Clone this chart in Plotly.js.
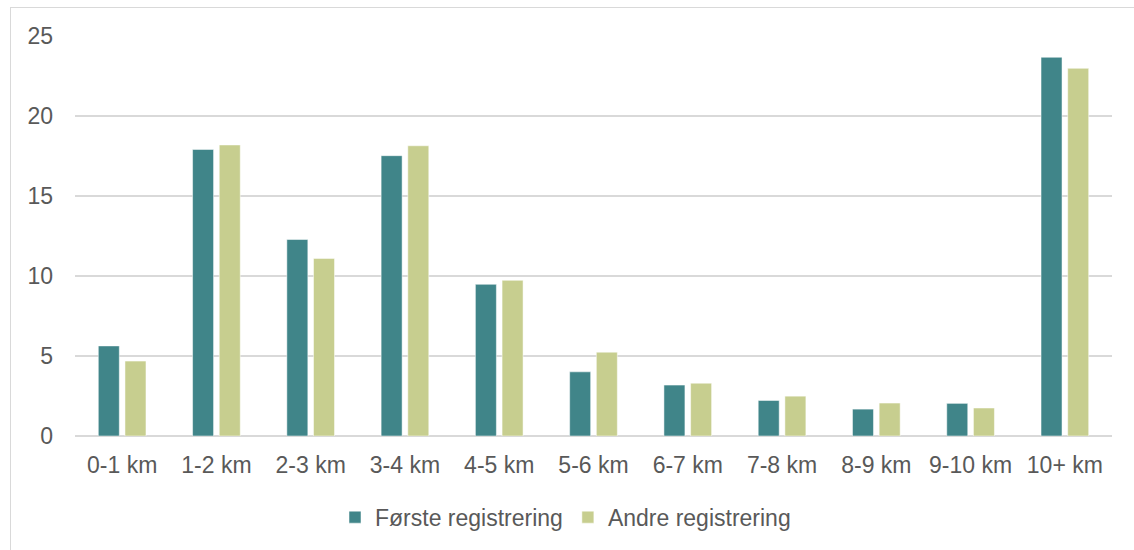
<!DOCTYPE html>
<html>
<head>
<meta charset="utf-8">
<script src="https://cdn.plot.ly/plotly-3.0.1.min.js"></script>
<style>
  html, body { margin: 0; padding: 0; background: #fff; overflow: hidden; }
  #frame { position: absolute; left: 10px; top: 7px; width: 1140px; height: 560px; border: 1px solid #d9d9d9; box-sizing: border-box; }
  #chart { position: absolute; left: 0; top: 0; width: 1134px; height: 550px; }
</style>
</head>
<body>
<div id="frame"></div>
<div id="chart"></div>
<script>
const categories = ["0-1 km", "1-2 km", "2-3 km", "3-4 km", "4-5 km", "5-6 km", "6-7 km", "7-8 km", "8-9 km", "9-10 km", "10+ km"];
const forsteRegistrering = [5.63, 17.91, 12.28, 17.52, 9.48, 4.01, 3.18, 2.22, 1.68, 2.04, 23.67];
const andreRegistrering = [4.68, 18.19, 11.10, 18.14, 9.73, 5.24, 3.30, 2.49, 2.06, 1.75, 22.98];
const seriesNames = ["Første registrering", "Andre registrering"];
const yTicks = [0, 5, 10, 15, 20, 25];

const font = "Liberation Sans, Arial, sans-serif";
const textColor = "#595959";
const fs = 23;

const traces = [
  { type: "bar", name: seriesNames[0], x: categories, y: forsteRegistrering,
    marker: { color: "#408589", line: { color: "#ffffff", width: 0.5 } }, hoverinfo: "x+y" },
  { type: "bar", name: seriesNames[1], x: categories, y: andreRegistrering,
    marker: { color: "#c7ce8f", line: { color: "#ffffff", width: 0.5 } }, hoverinfo: "x+y" }
];

const layout = {
  width: 1134, height: 550,
  margin: { l: 75, r: 22, t: 36, b: 113 },
  paper_bgcolor: "rgba(0,0,0,0)",
  plot_bgcolor: "rgba(0,0,0,0)",
  font: { family: font, size: fs, color: textColor },
  barmode: "group",
  bargap: 0.434,
  bargroupgap: 0.213,
  xaxis: {
    type: "category",
    showgrid: false,
    showline: false,
    zeroline: false,
    ticks: "",
    ticklabelstandoff: 13,
    tickfont: { family: font, size: fs, color: textColor }
  },
  yaxis: {
    range: [0, 25],
    tickvals: yTicks,
    ticktext: yTicks.map(String),
    showgrid: true,
    gridcolor: "#d9d9d9",
    gridwidth: 1.3,
    zeroline: true,
    zerolinecolor: "#d9d9d9",
    zerolinewidth: 1.3,
    showline: false,
    ticks: "",
    ticklabelstandoff: 21,
    tickfont: { family: font, size: fs, color: textColor }
  },
  showlegend: true,
  legend: {
    orientation: "h",
    x: 0.473, xanchor: "center",
    y: -0.2, yanchor: "middle",
    font: { family: font, size: fs, color: textColor },
    itemwidth: 30,
    traceorder: "normal"
  }
};

Plotly.newPlot("chart", traces, layout, { displayModeBar: false, staticPlot: true });
</script>
</body>
</html>
